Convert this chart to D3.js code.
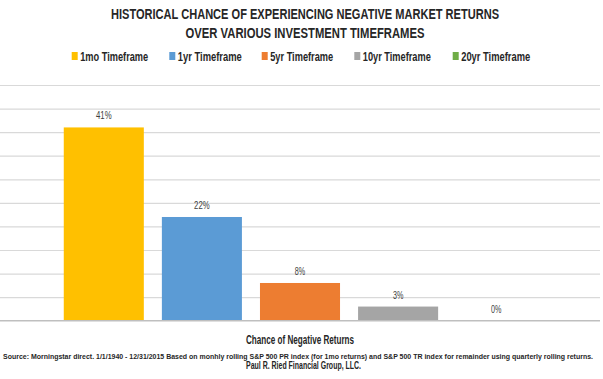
<!DOCTYPE html>
<html><head><meta charset="utf-8">
<script src="https://cdn.jsdelivr.net/npm/d3@7"></script>
<style>body{margin:0;background:#fff}svg{display:block}</style>
</head><body><svg id="c" width="603" height="379"></svg>
<script>
const series = ["1mo Timeframe","1yr Timeframe","5yr Timeframe","10yr Timeframe","20yr Timeframe"];
const values = [41, 22, 8, 3, 0];
const labels = ["41%","22%","8%","3%","0%"];
const colors = ["#FFC000","#5B9BD5","#ED7D31","#A5A5A5","#70AD47"];
const yTicks = [0,5,10,15,20,25,30,35,40,45,50];
const titleLines = ["HISTORICAL CHANCE OF EXPERIENCING NEGATIVE MARKET RETURNS","OVER VARIOUS INVESTMENT TIMEFRAMES"];
const axisTitle = "Chance of Negative Returns";
const sourceLines = ["Source: Morningstar direct. 1/1/1940 - 12/31/2015 Based on monhly rolling S&P 500 PR index (for 1mo returns) and S&P 500 TR index for remainder using quarterly rolling returns.","Paul R. Ried Financial Group, LLC."];

const svg = d3.select("#c");
const font = "'Liberation Sans Narrow','Liberation Sans',Arial,sans-serif";
const x = d3.scaleBand().domain(series).range([0,600]).paddingInner(0.184).paddingOuter(0.65);
const y = d3.scaleLinear().domain([0,50]).range([320.7, 85]);

function fit(sel, target, size, maxNatural){
  const w = sel.node().getComputedTextLength();
  if (maxNatural && w > maxNatural) sel.attr("font-size", size*maxNatural/w);
  sel.attr("textLength", target).attr("lengthAdjust","spacingAndGlyphs");
}

// gridlines
svg.append("g")
 .call(d3.axisLeft(y).tickValues(yTicks.filter(d=>d>0)).tickSize(-600).tickFormat(""))
 .call(s=>s.select(".domain").remove())
 .call(s=>s.selectAll(".tick line").attr("stroke","#d9d9d9").attr("stroke-width",1.2));

// bars
svg.selectAll("rect.bar").data(series).join("rect").attr("class","bar")
  .attr("x",d=>x(d)).attr("width",x.bandwidth())
  .attr("y",(d,i)=>y(values[i])).attr("height",(d,i)=>y(0)-y(values[i]))
  .attr("fill",(d,i)=>colors[i]);

// baseline
svg.append("line").attr("x1",0).attr("x2",600).attr("y1",y(0)).attr("y2",y(0))
  .attr("stroke","#bfbfbf").attr("stroke-width",1.5);

// data labels
svg.selectAll("text.lbl").data(series).join("text").attr("class","lbl")
  .attr("x",d=>x(d)+x.bandwidth()/2).attr("y",(d,i)=>y(values[i])-8)
  .attr("text-anchor","middle").attr("font-family",font).attr("font-size",11)
  .attr("fill","#404040").text((d,i)=>labels[i])
  .attr("textLength",(d,i)=>labels[i].length*5.2).attr("lengthAdjust","spacingAndGlyphs");

// title
const tl = [{y:19, len:388},{y:37.5, len:239}];
titleLines.forEach((t,i)=>{
  const s = svg.append("text").attr("x",305).attr("y",tl[i].y).attr("text-anchor","middle")
    .attr("font-family",font).attr("font-weight","bold").attr("font-size",14)
    .attr("fill","#262626").text(t);
  fit(s, tl[i].len, 14);
});

// legend
const legX = [71.7,169.3,261.7,354.3,452.7];
const legLen = [68,64,63,68,69];
const lg = svg.selectAll("g.leg").data(series).join("g").attr("class","leg")
  .attr("transform",(d,i)=>`translate(${legX[i]},56)`);
lg.append("rect").attr("x",0).attr("y",-4).attr("width",6).attr("height",8).attr("fill",(d,i)=>colors[i]);
lg.append("text").attr("x",8.5).attr("y",4.5).attr("font-family",font).attr("font-weight","bold")
  .attr("font-size",13).attr("fill","#262626").text(d=>d)
  .each(function(d,i){ fit(d3.select(this), legLen[i], 13); });

// axis title
const at = svg.append("text").attr("x",300).attr("y",343.5).attr("text-anchor","middle")
  .attr("font-family",font).attr("font-weight","bold").attr("font-size",12)
  .attr("fill","#262626").text(axisTitle);
fit(at, 108, 12);

// source
const sl = [{x:298, y:359, len:590},{x:303.5, y:368.5, len:115}];
sourceLines.forEach((t,i)=>{
  const s = svg.append("text").attr("x",sl[i].x).attr("y",sl[i].y).attr("text-anchor","middle")
    .attr("font-family",font).attr("font-weight","bold").attr("font-size",10)
    .attr("fill","#262626").text(t);
  fit(s, sl[i].len, 10, 594);
});
</script></body></html>
